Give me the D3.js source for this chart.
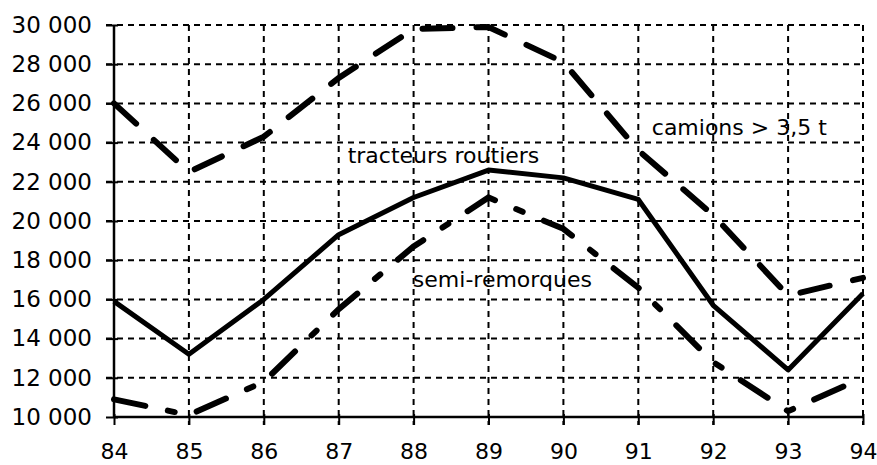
<!DOCTYPE html>
<html><head><meta charset="utf-8">
<script src="https://cdn.jsdelivr.net/npm/d3@7"></script>
<style>
html,body{margin:0;padding:0;background:#fff;}
svg{display:block;}
text{font-family:"DejaVu Sans",sans-serif;fill:#000;}
</style></head>
<body>
<script>
const years = [84, 85, 86, 87, 88, 89, 90, 91, 92, 93, 94];
const tracteurs = [15900, 13200, 16000, 19300, 21200, 22600, 22200, 21100, 15700, 12400, 16300];
const camions = [26000, 22500, 24300, 27300, 29800, 29900, 28100, 23600, 20300, 16200, 17100];
const semi = [10900, 10100, 11800, 15500, 18700, 21200, 19600, 16600, 12800, 10300, 12000];
const yTicks = [10000, 12000, 14000, 16000, 18000, 20000, 22000, 24000, 26000, 28000, 30000];
const labels = [
  {text: "tracteurs routiers", x: 87.12, y: 22950},
  {text: "camions > 3,5 t", x: 91.18, y: 24400},
  {text: "semi-remorques", x: 87.99, y: 16650}
];

const W = 877, H = 465;
const svg = d3.select("body").append("svg").attr("width", W).attr("height", H);
const x = d3.scaleLinear().domain([84, 94]).range([114, 863]);
const y = d3.scaleLinear().domain([10000, 30000]).range([417, 25]);
const fmt = d3.formatLocale({decimal: ",", thousands: " ", grouping: [3], currency: ["", ""]}).format(",d");

// grid
const grid = svg.append("g").attr("stroke", "#000").attr("stroke-width", 2).attr("stroke-dasharray", "6 5").attr("fill", "none");
yTicks.slice(1).forEach(v => {
  grid.append("line").attr("x1", x(84) - 8).attr("x2", x(94)).attr("y1", y(v)).attr("y2", y(v));
});
years.slice(1).forEach(v => {
  grid.append("line").attr("x1", x(v)).attr("x2", x(v)).attr("y1", y(30000)).attr("y2", y(10000) + 8);
});

// axes
const yAxis = d3.axisLeft(y).tickValues(yTicks).tickFormat(fmt).tickSize(8).tickPadding(14);
const gy = svg.append("g").attr("transform", `translate(${x(84)},0)`).call(yAxis);
const xAxis = d3.axisBottom(x).tickValues(years).tickFormat(d => d).tickSize(8).tickPadding(20);
const gx = svg.append("g").attr("transform", `translate(0,${y(10000)})`).call(xAxis);
[gy, gx].forEach(g => {
  g.select(".domain").attr("stroke", "#000").attr("stroke-width", 2.5);
  g.selectAll(".tick line").attr("stroke", "#000").attr("stroke-width", 2);
  g.selectAll("text").attr("font-size", 23).attr("font-family", "DejaVu Sans, sans-serif").attr("fill", "#000");
});
gy.select(".domain").attr("d", `M0,${y(30000)}V${y(10000)}`);
gy.selectAll(".tick line").attr("x1", 4);
gx.select(".domain").attr("d", `M${x(84)},0H${x(94)}`);
gx.selectAll(".tick line").attr("y1", -3);
gx.selectAll("text").attr("font-size", 22).attr("y", 42).attr("dy", null);

// series
const line = d3.line().x((d, i) => x(years[i])).y(d => y(d));
svg.append("path").datum(tracteurs).attr("d", line).attr("fill", "none").attr("stroke", "#000")
  .attr("stroke-width", 5).attr("stroke-linejoin", "round");
svg.append("path").datum(camions).attr("d", line).attr("fill", "none").attr("stroke", "#000")
  .attr("stroke-width", 6).attr("stroke-linecap", "round").attr("stroke-dasharray", "30 24");
svg.append("path").datum(semi).attr("d", line).attr("fill", "none").attr("stroke", "#000")
  .attr("stroke-width", 6).attr("stroke-linecap", "round").attr("stroke-dasharray", "32 23 7 23");

// labels
labels.forEach(l => {
  svg.append("text").attr("x", x(l.x)).attr("y", y(l.y)).attr("font-size", 22).text(l.text);
});
</script>
</body></html>
